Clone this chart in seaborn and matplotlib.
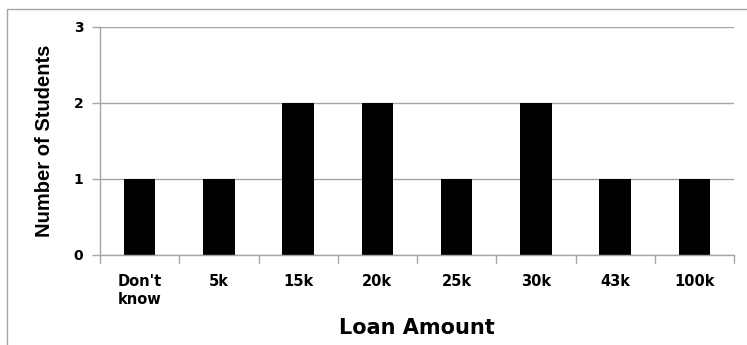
import matplotlib
matplotlib.use("Agg")
import matplotlib.pyplot as plt
import seaborn as sns
import pandas as pd
from matplotlib.patches import Rectangle

categories = ["Don't\nknow", "5k", "15k", "20k", "25k", "30k", "43k", "100k"]
students = [1, 1, 2, 2, 1, 2, 1, 1]
yticks = [0, 1, 2, 3]

sns.set_style("white")
plt.rcParams['font.family'] = ['DejaVu Sans']
plt.rcParams['text.color'] = 'black'
plt.rcParams['axes.labelcolor'] = 'black'
plt.rcParams['xtick.color'] = 'black'
plt.rcParams['ytick.color'] = 'black'

df = pd.DataFrame({"Loan Amount": categories, "Number of Students": students})

fig = plt.figure(figsize=(7.47, 3.45), dpi=100)
ax = fig.add_axes([100/747, 1-255/345, (734-100)/747, (255-27)/345])

sns.barplot(data=df, x="Loan Amount", y="Number of Students", color="black",
            width=0.4, saturation=1, linewidth=0, ax=ax)

ax.set_ylim(0, 3)
ax.set_xlim(-0.5, len(categories) - 0.5)
ax.set_yticks(yticks)
ax.set_yticklabels([str(t) for t in yticks], fontweight="bold", fontsize=10)
ax.yaxis.grid(True, color="#a6a6a6", linewidth=1)
ax.set_axisbelow(True)

for s in ["top", "right"]:
    ax.spines[s].set_visible(False)
for s in ["left", "bottom"]:
    ax.spines[s].set_color("#a6a6a6")
    ax.spines[s].set_linewidth(1)

ax.set_xticks(range(len(categories)))
ax.set_xticklabels(categories, fontweight="bold", fontsize=10.5, va="top")
ax.tick_params(axis="x", length=0, pad=14)
for i in range(len(categories) + 1):
    ax.plot([i - 0.5, i - 0.5], [0, -0.1], color="#a6a6a6", lw=1,
            clip_on=False, transform=ax.transData)
ax.set_ylim(0, 3)
ax.tick_params(axis="y", length=6, color="#a6a6a6", width=1, pad=6, left=True,
               labelcolor="black")
ax.tick_params(axis="x", labelcolor="black")
for lbl in ax.get_xticklabels():
    lbl.set_horizontalalignment("center")
    lbl.set_multialignment("left")

ax.set_xlabel("Loan Amount", fontweight="bold", fontsize=15, labelpad=8, color="black")
ax.set_ylabel("Number of Students", fontsize=14.5, family=["Liberation Sans"],
              fontweight="bold", labelpad=14, color="black")

fig.patches.append(Rectangle((7/747, -0.1), 1.2, 1 - 9/345 + 0.1, transform=fig.transFigure,
                             fill=False, edgecolor="#a6a6a6", linewidth=1))

fig.savefig("out.png", dpi=100)
